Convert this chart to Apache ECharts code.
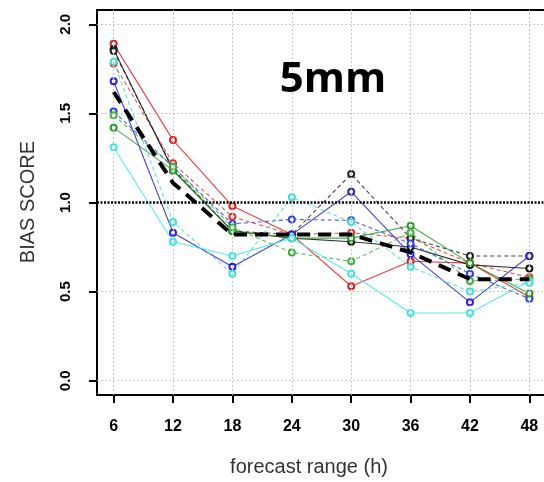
<!DOCTYPE html>
<html>
<head>
<meta charset="utf-8">
<script src="https://cdn.jsdelivr.net/npm/echarts@6/dist/echarts.min.js"></script>
<style>
  html, body { margin: 0; padding: 0; background: #fff; }
  #chart { width: 544px; height: 482px; }
</style>
</head>
<body>
<div id="chart"></div>
<script>
// Forecast lead times (hours)
const leadTimes = [6, 12, 18, 24, 30, 36, 42, 48];
const yTicks = [0, 0.5, 1, 1.5, 2];

// Bias score per model run, 5mm threshold
const redSolid    = [1.89, 1.35, 0.98, 0.82, 0.53, 0.67, 0.66, 0.47];
const redDashed   = [1.78, 1.22, 0.92, 0.82, 0.83, 0.80, 0.66, 0.58];
const blackSolid  = [1.86, 1.18, 0.84, 0.80, 0.78, 0.75, 0.65, 0.63];
const blackDashed = [1.85, 1.19, 0.84, 0.82, 1.16, 0.80, 0.70, 0.70];
const blueSolid   = [1.68, 0.83, 0.64, 0.82, 1.06, 0.71, 0.44, 0.70];
const blueDashed  = [1.51, 1.20, 0.88, 0.905, 0.90, 0.77, 0.60, 0.46];
const greenSolid  = [1.42, 1.18, 0.84, 0.80, 0.80, 0.87, 0.66, 0.49];
const greenDashed = [1.49, 1.20, 0.86, 0.72, 0.67, 0.83, 0.56, 0.57];
const cyanSolid   = [1.31, 0.78, 0.70, 0.80, 0.60, 0.38, 0.38, 0.56];
const cyanDashed  = [1.79, 0.89, 0.60, 1.03, 0.89, 0.64, 0.50, 0.55];
// Ensemble mean
const meanScore   = [1.62, 1.11, 0.82, 0.82, 0.82, 0.72, 0.57, 0.57];

const pairs = arr => arr.map((v, i) => [leadTimes[i], v]);

function run(name, data, color, dashed) {
  return {
    name, type: 'line', data: pairs(data), z: 3,
    symbol: 'emptyCircle', symbolSize: 6,
    itemStyle: { color: color, borderColor: color, borderWidth: 1.6 },
    lineStyle: { color: color, width: 1.1, type: dashed ? [4, 3] : 'solid', opacity: 0.85 },
    animation: false, silent: true
  };
}

const gridLineStyle = { color: '#c8c8c8', width: 1, type: [2, 2] };

const chart = echarts.init(document.getElementById('chart'), null, { renderer: 'canvas' });
chart.setOption({
  backgroundColor: '#fff',
  animation: false,
  grid: {
    left: 97, top: 10, width: 449, height: 385,
    show: true, borderColor: '#000', borderWidth: 2, backgroundColor: 'transparent',
    outerBoundsMode: 'none', containLabel: false
  },
  xAxis: {
    type: 'value', min: 4.32, max: 49.68,
    axisLine: { show: false, onZero: false },
    splitLine: { show: false },
    axisTick: { show: true, customValues: leadTimes, length: 8, inside: false,
                lineStyle: { color: '#000', width: 2, type: 'solid' } },
    axisLabel: { show: true, customValues: leadTimes, margin: 24,
                 fontFamily: 'Liberation Sans', fontWeight: 'bold', fontSize: 16, color: '#000' }
  },
  yAxis: {
    type: 'value', min: -0.08, max: 2.08,
    axisLine: { show: false, onZero: false },
    splitLine: { show: false },
    axisTick: { show: true, customValues: yTicks, length: 8, inside: false,
                lineStyle: { color: '#000', width: 2, type: 'solid' } },
    axisLabel: { show: true, customValues: yTicks, margin: 24, rotate: 90,
                 formatter: v => v.toFixed(1),
                 fontFamily: 'Liberation Sans', fontWeight: 'bold', fontSize: 15, color: '#000' }
  },
  graphic: [
    { type: 'rect', z: 2, shape: { x: 263, y: 40, width: 152, height: 77 },
      style: { fill: '#fff' } },
    { type: 'text', z: 10, x: 333, y: 80,
      style: { text: '5mm', font: 'bold 42px "Open Sans"', fill: '#000',
               textAlign: 'center', textVerticalAlign: 'middle' } },
    { type: 'text', z: 10, x: 28, y: 202, rotation: Math.PI / 2,
      style: { text: 'BIAS SCORE', font: '20px "Liberation Sans"', fill: '#333',
               textAlign: 'center', textVerticalAlign: 'middle' } },
    { type: 'text', z: 10, x: 309, y: 467,
      style: { text: 'forecast range (h)', font: '20px "Liberation Sans"', fill: '#333',
               textAlign: 'center', textVerticalAlign: 'middle' } }
  ],
  series: [
    {
      type: 'line', data: [], z: 1, silent: true,
      markLine: {
        silent: true, symbol: 'none', label: { show: false }, animation: false,
        lineStyle: gridLineStyle,
        data: leadTimes.map(t => ({ xAxis: t }))
          .concat([0, 0.5, 1.5, 2].map(v => ({ yAxis: v })))
      }
    },
    {
      type: 'line', data: [], z: 4, silent: true,
      markLine: {
        silent: true, symbol: 'none', label: { show: false }, animation: false,
        lineStyle: { color: '#000', width: 2.5, type: [2, 1.5] },
        data: [{ yAxis: 1 }]
      }
    },
    run('red', redSolid, '#e02020', false),
    run('red-d', redDashed, '#e83030', true),
    run('black', blackSolid, '#111', false),
    run('black-d', blackDashed, '#222', true),
    run('blue', blueSolid, '#2a22d0', false),
    run('blue-d', blueDashed, '#2a44e0', true),
    run('green', greenSolid, '#2a9a2a', false),
    run('green-d', greenDashed, '#3cb43c', true),
    run('cyan', cyanSolid, '#3ee6e6', false),
    run('cyan-d', cyanDashed, '#40dcdc', true),
    {
      name: 'mean', type: 'line', data: pairs(meanScore), z: 5,
      symbol: 'none',
      lineStyle: { color: '#000', width: 4, type: [13, 8] },
      animation: false, silent: true
    }
  ]
});
</script>
</body>
</html>
